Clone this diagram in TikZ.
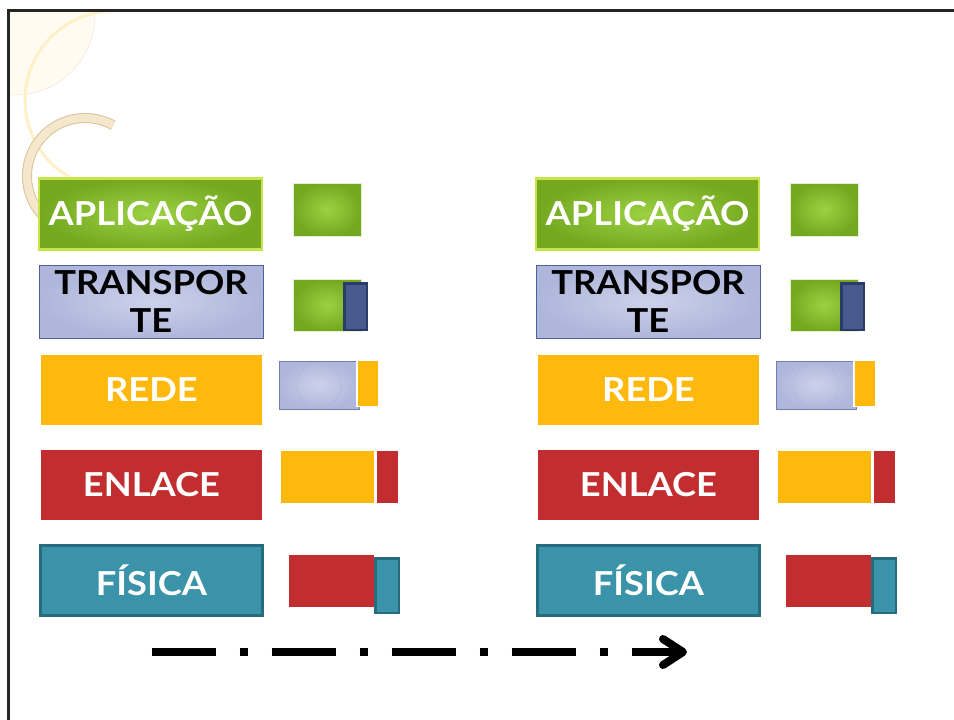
\documentclass[tikz,border=0pt]{standalone}
\usepackage{fontspec}
\setmainfont{Lato}[FakeStretch=1.1]
\usetikzlibrary{arrows.meta}
\definecolor{appin}{HTML}{9DD145}
\definecolor{appout}{HTML}{74A81E}
\definecolor{appline}{HTML}{C5E54A}
\definecolor{lavin}{HTML}{CDD2EA}
\definecolor{lavout}{HTML}{AEB6DB}
\definecolor{lavline}{HTML}{4F5F99}
\definecolor{hdrblue}{HTML}{48598E}
\definecolor{hdrline}{HTML}{2C3A66}
\definecolor{netorange}{HTML}{FFB80C}
\definecolor{linkred}{HTML}{C22E30}
\definecolor{phyteal}{HTML}{3A93A8}
\definecolor{phyline}{HTML}{276C7E}
\definecolor{ringtan}{HTML}{F0DDB5}
\definecolor{ringline}{HTML}{D9C49A}
\definecolor{paleyellow}{HTML}{FFF0C8}
\begin{document}
\begin{tikzpicture}[x=1pt,y=-1pt,
  lbox/.style={inner sep=0pt, align=center, text=white,
    font=\fontsize{33}{38}\selectfont\bfseries},
  applayer/.style={lbox, shading=radial, inner color=appin, outer color=appout,
    draw=appline, line width=2.5pt, minimum width=223pt, minimum height=71pt},
  translayer/.style={lbox, text=black, shading=radial, inner color=lavin,
    outer color=lavout, draw=lavline, line width=0.8pt, minimum width=224pt,
    minimum height=73pt},
  netlayer/.style={lbox, fill=netorange, minimum width=221pt, minimum height=70pt},
  linklayer/.style={lbox, fill=linkred, minimum width=221pt, minimum height=70pt},
  phylayer/.style={lbox, fill=phyteal, draw=phyline, line width=3pt,
    minimum width=222pt, minimum height=70pt},
  pdu/.style={inner sep=0pt, minimum width=#1},
  greenpdu/.style={pdu=68pt, minimum height=53pt, shading=radial, inner color=appin,
    outer color=appout, draw=white!80!appout, line width=0.8pt}]

\fill[white] (0,0) rectangle (954,720);
\useasboundingbox (0,0) rectangle (954,720);

\begin{scope}
\clip (10,12) rectangle (954,720);
\fill[yellow!40!orange!5, draw=ringline!45] (15,15) circle (80);
\draw[paleyellow, line width=3pt] (114,100) ++(-90:89) arc (-90:-245:89);
\draw[ringline, line width=10pt] (85,176) ++(-61:58) arc (-61:-230:58);
\draw[ringtan!70!white, line width=8pt] (85,176) ++(-61:58) arc (-61:-230:58);
\end{scope}

\draw[line width=3pt, black!85] (8.8,720) -- (8.8,10.5) -- (954,10.5);

\foreach \s/\dx in {l/0,r/497}{
\begin{scope}[xshift=\dx]
\node[applayer] (app\s) at (150.5,214) {APLICAÇÃO};
\node[translayer] (trans\s) at (151,301.5) {TRANSPOR\\TE};
\node[netlayer] (net\s) at (151.5,390) {REDE};
\node[linklayer] (link\s) at (151.5,485) {ENLACE};
\node[phylayer] (phy\s) at (151.5,580.5) {FÍSICA};

\node[greenpdu] (msg\s) at (327,209.5) {};
\node[greenpdu, minimum height=52pt] (segdata\s) at (327,305) {};
\node[pdu=22.5pt, minimum height=46.5pt, fill=hdrblue, draw=hdrline,
  line width=2.5pt] (seghdr\s) at (355.5,306.5) {};
\node[pdu=80pt, minimum height=48pt, shading=radial, inner color=lavin,
  outer color=lavout, draw=lavline!80, line width=0.8pt] (pktdata\s) at (319,385) {};
\draw[lavout!85!lavline, line width=0.5pt, densely dotted] (pktdata\s.center) circle (22.5);
\node[pdu=22pt, minimum height=46pt, fill=netorange, draw=white,
  line width=1.5pt] (pkthdr\s) at (368,383.5) {};
\node[pdu=93pt, minimum height=52pt, fill=netorange] (framedata\s) at (327.5,477) {};
\node[pdu=21pt, minimum height=52pt, fill=linkred] (framehdr\s) at (387.5,477) {};
\node[pdu=85pt, minimum height=52pt, fill=linkred] (bitdata\s) at (331.5,581) {};
\node[pdu=23.5pt, minimum height=54.5pt, fill=phyteal, draw=phyline,
  line width=2.5pt] (bithdr\s) at (387,585.5) {};
\end{scope}
}

\coordinate (flowstart) at (151.6,652);
\coordinate (flowend) at (687,652);
\draw[line width=8pt, dash pattern=on 64pt off 24pt on 8pt off 24pt,
  -{Straight Barb[length=20pt,width=26pt,round]}] (flowstart) -- (flowend);
\end{tikzpicture}
\end{document}
